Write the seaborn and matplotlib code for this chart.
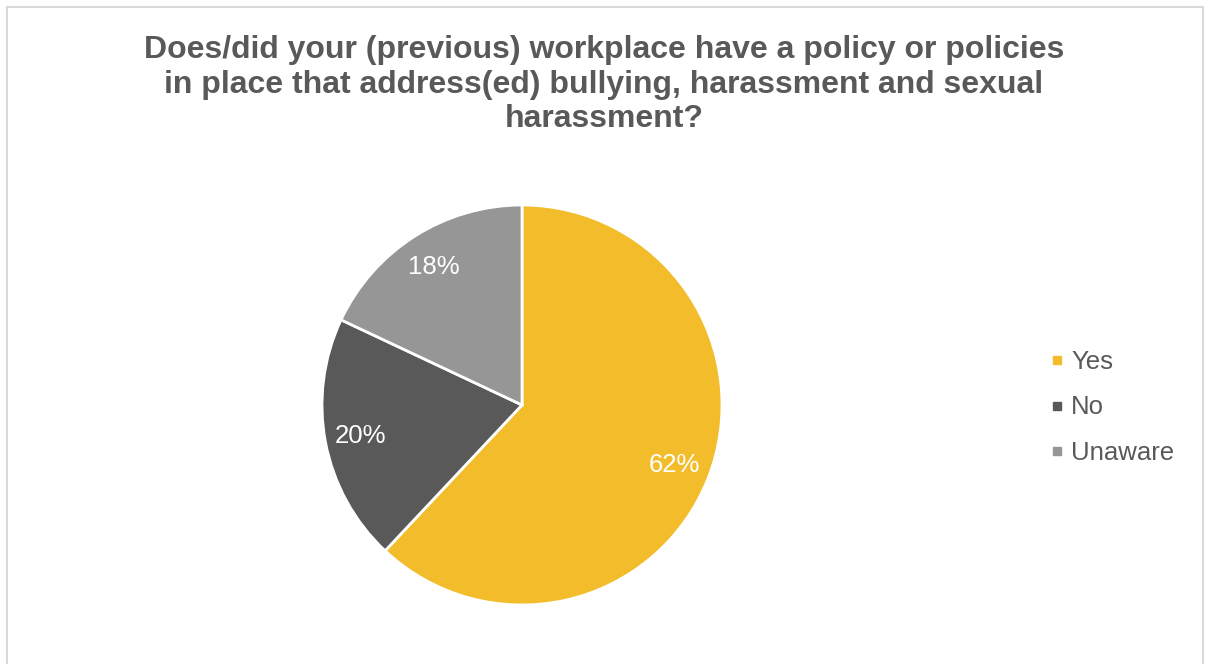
import matplotlib
matplotlib.use("Agg")
import matplotlib.pyplot as plt
from matplotlib.lines import Line2D
from matplotlib.patches import Rectangle
import seaborn as sns

# Survey responses
categories = ["Yes", "No", "Unaware"]
shares = [62, 20, 18]
colors = ["#F2BC2A", "#595959", "#969696"]
title = ("Does/did your (previous) workplace have a policy or policies\n"
         "in place that address(ed) bullying, harassment and sexual\n"
         "harassment?")

sns.set_theme(style="white")
plt.rcParams["font.family"] = ["Liberation Sans", "DejaVu Sans"]

W, H = 1208, 664
fig = plt.figure(figsize=(W / 100, H / 100), dpi=100)
fig.patch.set_facecolor("white")

# Pie centred at (522, 405) px with radius 200 px
cx, cy, R = 522, 405, 200
half = 1.25 * R
ax = fig.add_axes([(cx - half) / W, (H - cy - half) / H, 2 * half / W, 2 * half / H])
wedges, texts, autotexts = ax.pie(
    shares, colors=colors, startangle=90, counterclock=False,
    autopct=lambda p: f"{p:.0f}%", pctdistance=0.82,
    wedgeprops=dict(edgecolor="white", linewidth=2),
    textprops=dict(color="white", fontsize=18.5),
)
ax.set_xlim(-1.25, 1.25)
ax.set_ylim(-1.25, 1.25)
ax.set_aspect("equal")
ax.axis("off")

fig.text(604 / W, 1 - 35 / H, title, ha="center", va="top", fontsize=23,
         fontweight="bold", color="#595959", linespacing=1.2)

handles = [Line2D([], [], marker="s", linestyle="none", markersize=6,
                  markerfacecolor=c, markeredgecolor=c) for c in colors]
fig.legend(handles, categories, loc="center left",
           bbox_to_anchor=(1026 / W, 1 - 407.5 / H), frameon=False,
           fontsize=18.5, labelcolor="#595959", handletextpad=0.25,
           labelspacing=0.85, handlelength=0.6)

fig.patches.append(Rectangle((6.5 / W, -0.02), (1203 - 6.5) / W, 1.02 - 6.5 / H,
                             transform=fig.transFigure, fill=False,
                             edgecolor="#D9D9D9", linewidth=1.5))

fig.savefig("out.png", dpi=100)
